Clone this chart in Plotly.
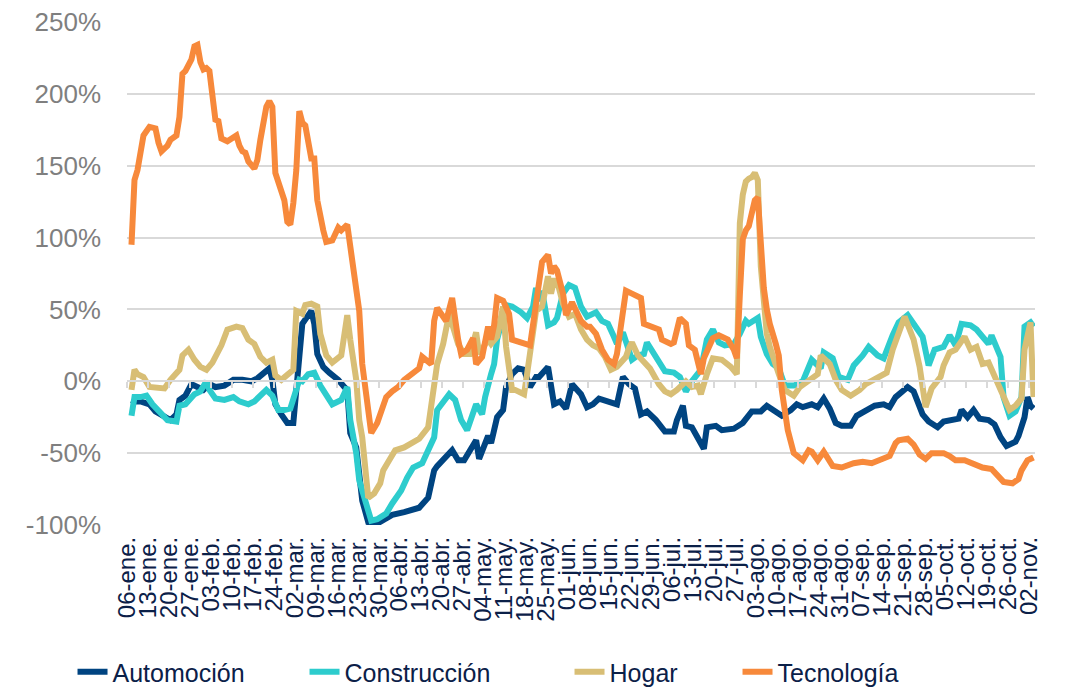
import plotly.graph_objects as go

# Week labels on the category/date axis
week_labels = ["06-ene.", "13-ene.", "20-ene.", "27-ene.", "03-feb.", "10-feb.", "17-feb.", "24-feb.",
               "02-mar.", "09-mar.", "16-mar.", "23-mar.", "30-mar.", "06-abr.", "13-abr.", "20-abr.",
               "27-abr.", "04-may.", "11-may.", "18-may.", "25-may.", "01-jun.", "08-jun.", "15-jun.",
               "22-jun.", "29-jun.", "06-jul.", "13-jul.", "20-jul.", "27-jul.", "03-ago.", "10-ago.",
               "17-ago.", "24-ago.", "31-ago.", "07-sep.", "14-sep.", "21-sep.", "28-sep.", "05-oct.",
               "12-oct.", "19-oct.", "26-oct.", "02-nov."]

y_ticks = [-100, -50, 0, 50, 100, 150, 200, 250]
y_tick_labels = ["-100%", "-50%", "0%", "50%", "100%", "150%", "200%", "250%"]

# Day index (0 = first observation) and values in %
auto_days = [0, 1, 3, 6, 8, 11, 13, 15, 16, 18, 20, 22, 24, 26, 28, 31, 34, 37, 40, 42, 44, 46, 47, 48, 50, 52, 54,
             55, 56, 57, 60, 61, 62, 64, 66, 69, 71, 72, 73, 75, 77, 79, 82, 84, 87, 91, 94, 96, 99, 101, 102, 105,
             107, 109, 111, 113, 115, 116, 117, 119, 120, 122, 124, 125, 127, 129, 131, 132, 133, 135, 136, 139, 140,
             141, 143, 145, 147, 150, 152, 154, 156, 159, 162, 164, 166, 168, 170, 172, 175, 178, 181, 182, 184, 185,
             187, 191, 192, 195, 197, 201, 204, 207, 210, 212, 215, 217, 220, 222, 224, 227, 229, 231, 233, 235, 237,
             240, 242, 245, 248, 251, 253, 255, 257, 259, 261, 262, 264, 266, 269, 271, 273, 276, 277, 279, 281, 283,
             286, 288, 290, 292, 295, 296, 298, 299, 300, 301]
auto_vals = [-13, -14, -14, -16, -21, -25, -27, -23, -13, -10, -2, -4, -6, -2, -4, -3, 1, 1, 0, 2, 5, 9, 1, -16, -23,
             -29, -29, -4, 24, 40, 49, 40, 19, 10, 6, 1, -4, -6, -36, -46, -83, -98, -99, -97, -93, -91, -89, -88, -81,
             -62, -59, -53, -48, -55, -55, -48, -41, -54, -48, -38, -43, -25, -20, -4, 5, 9, 8, 0, -4, 3, 3, 10, -6,
             -16, -14, -19, -2, -9, -18, -16, -12, -14, -16, 3, -2, -5, -23, -21, -27, -35, -35, -27, -17, -31, -32,
             -47, -32, -31, -34, -33, -29, -21, -21, -17, -21, -24, -20, -16, -18, -16, -18, -12, -19, -29, -31, -31,
             -24, -20, -17, -16, -18, -11, -7, -4, -7, -13, -23, -28, -32, -28, -27, -26, -20, -25, -20, -26, -27,
             -30, -39, -45, -42, -38, -25, -11, -17, -19]

cons_days = [0, 1, 3, 5, 7, 10, 12, 15, 16, 18, 21, 23, 25, 26, 28, 31, 34, 36, 39, 41, 43, 45, 47, 49, 51, 53, 56,
             57, 59, 61, 63, 65, 67, 70, 72, 73, 75, 76, 79, 80, 82, 85, 87, 90, 92, 94, 97, 99, 101, 102, 105, 106,
             108, 110, 112, 114, 115, 117, 118, 120, 121, 122, 124, 125, 127, 130, 132, 134, 135, 136, 137, 139, 141,
             142, 144, 146, 148, 150, 152, 155, 157, 159, 161, 162, 164, 166, 167, 169, 171, 172, 174, 176, 178, 181,
             183, 185, 187, 190, 192, 194, 196, 198, 201, 203, 205, 206, 209, 210, 212, 214, 216, 218, 221, 224, 227,
             230, 231, 234, 236, 239, 241, 244, 246, 249, 251, 254, 256, 259, 262, 264, 266, 268, 271, 273, 275, 277,
             280, 282, 284, 286, 287, 290, 291, 293, 295, 297, 298, 300, 301]
cons_vals = [-24, -11, -11, -10, -16, -23, -27, -28, -17, -16, -9, -7, 0, -6, -12, -13, -11, -14, -16, -14, -10, -6,
             -10, -20, -20, -19, 1, 0, 5, 6, -3, -9, -16, -13, -4, -27, -50, -69, -92, -97, -96, -92, -85, -76, -67,
             -60, -57, -48, -39, -20, -11, -9, -13, -27, -34, -23, -16, -23, -11, 5, 12, 29, 45, 53, 52, 48, 44, 52,
             65, 56, 63, 39, 41, 44, 61, 67, 65, 52, 45, 48, 42, 40, 31, 26, 34, 19, 15, 18, 19, 27, 20, 12, 7, 6, 3,
             -7, 0, 8, 29, 36, 27, 25, 26, 33, 42, 40, 44, 31, 19, 12, 9, -3, -3, 0, 15, 9, 20, 16, 3, 1, 11, 18, 24,
             18, 16, 32, 41, 46, 36, 31, 11, 22, 24, 32, 25, 40, 39, 36, 31, 26, 32, 17, -11, -24, -21, -11, 38, 41,
             38]

hogar_days = [0, 1, 2, 4, 6, 9, 11, 13, 16, 17, 19, 21, 23, 25, 27, 30, 32, 35, 37, 39, 41, 43, 45, 47, 48, 50, 52,
              54, 55, 57, 58, 60, 62, 63, 65, 67, 70, 71, 72, 73, 75, 76, 77, 79, 81, 83, 84, 86, 88, 91, 94, 96, 99,
              101, 102, 104, 106, 107, 109, 111, 113, 115, 116, 119, 120, 122, 124, 125, 127, 128, 131, 132, 134, 135,
              137, 139, 140, 141, 142, 144, 146, 148, 150, 152, 154, 156, 158, 160, 162, 165, 166, 167, 169, 171, 173,
              176, 178, 180, 182, 185, 187, 189, 190, 192, 194, 197, 200, 202, 203, 204, 205, 206, 207, 208, 209, 210,
              211, 212, 213, 214, 216, 218, 221, 223, 226, 229, 230, 233, 235, 237, 240, 243, 245, 248, 252, 254, 256,
              258, 261, 263, 265, 267, 270, 271, 273, 275, 278, 280, 282, 284, 286, 288, 291, 293, 295, 297, 298, 300,
              301]
hogar_vals = [-6, 8, 5, 3, -4, -4, -5, 1, 8, 18, 22, 15, 10, 8, 13, 25, 36, 38, 37, 29, 26, 17, 13, 15, 4, 1, 4, 8,
              49, 47, 53, 54, 52, 33, 18, 13, 18, 36, 46, 29, 1, -27, -39, -81, -78, -71, -62, -55, -48, -46, -42,
              -40, -32, -6, 12, 26, 47, 40, 26, 19, 19, 34, 19, 29, 26, 31, 52, 24, -6, -6, -9, 5, 36, 49, 52, 73, 61,
              70, 70, 54, 45, 47, 36, 29, 25, 23, 17, 8, 10, 17, 23, 27, 18, 13, 9, -2, -7, -9, -6, 0, -4, -3, -9, 5,
              16, 15, 10, 5, 110, 130, 139, 141, 142, 145, 140, 80, 55, 33, 24, 17, 5, -6, -10, -4, 1, 5, 18, 12, 1,
              -6, -10, -6, -2, 1, 6, 22, 34, 45, 29, 10, -18, -5, 3, 11, 20, 22, 31, 22, 24, 12, 13, 3, -11, -20, -17,
              -12, 22, 41, -11]

tec_days = [0, 1, 2, 3, 4, 6, 8, 9, 10, 12, 13, 15, 16, 17, 18, 20, 21, 22, 23, 24, 25, 26, 27, 28, 29, 30, 32, 35,
            36, 37, 38, 39, 41, 42, 43, 45, 46, 47, 48, 51, 52, 53, 54, 55, 56, 57, 58, 59, 60, 61, 62, 64, 65, 67,
            69, 70, 72, 73, 75, 76, 77, 79, 80, 82, 84, 85, 87, 89, 91, 93, 96, 97, 100, 101, 102, 105, 107, 109, 110,
            112, 114, 115, 117, 119, 120, 121, 122, 124, 126, 127, 130, 133, 135, 137, 139, 140, 141, 142, 144, 145,
            147, 150, 152, 153, 155, 157, 159, 161, 162, 164, 165, 167, 170, 171, 173, 176, 177, 180, 181, 183, 185,
            186, 188, 190, 191, 194, 196, 199, 201, 202, 203, 204, 205, 206, 207, 208, 209, 210, 211, 212, 213, 215,
            216, 217, 219, 221, 224, 226, 227, 229, 231, 234, 237, 241, 244, 247, 250, 253, 255, 256, 259, 261, 263,
            265, 267, 271, 273, 275, 278, 282, 284, 287, 289, 291, 294, 296, 297, 299, 301]
tec_vals = [95, 140, 147, 163, 171, 177, 176, 166, 160, 164, 168, 171, 184, 214, 216, 224, 233, 234, 222, 217, 218,
            216, 200, 182, 181, 169, 167, 171, 164, 160, 159, 153, 148, 154, 168, 191, 195, 191, 145, 126, 111, 109,
            124, 147, 188, 180, 178, 166, 155, 155, 126, 105, 97, 98, 107, 105, 109, 94, 61, 49, 12, -16, -36, -29,
            -18, -11, -7, -4, 1, 4, 9, 17, 12, 42, 51, 42, 58, 29, 19, 22, 30, 12, 17, 38, 29, 39, 58, 56, 47, 29,
            27, 25, 54, 83, 88, 75, 80, 77, 61, 46, 55, 42, 38, 38, 33, 22, 15, 12, 19, 45, 63, 61, 58, 40, 38, 36,
            29, 26, 27, 44, 40, 25, 22, 5, 16, 30, 32, 29, 22, 16, 60, 99, 105, 108, 117, 126, 128, 92, 65, 50, 40,
            26, 18, -6, -34, -50, -55, -48, -49, -55, -49, -59, -60, -57, -56, -57, -54, -52, -43, -41, -40, -44,
            -51, -54, -50, -50, -52, -55, -55, -59, -60, -61, -65, -70, -71, -68, -62, -55, -53]

series = [
    ("Automoción", auto_days, auto_vals, "#004481", 187),
    ("Construcción", cons_days, cons_vals, "#2DCCCD", 220),
    ("Hogar", hogar_days, hogar_vals, "#D8BE75", 123),
    ("Tecnología", tec_days, tec_vals, "#F7893B", 150),
]

tick_pos = [7 * i - 1.5 for i in range(len(week_labels))]
x_range = [-1.5, 301.5]
y_range = [-100, 250]

fig = go.Figure()
for name, d, v, c, lw in series:
    fig.add_trace(go.Scatter(x=d, y=v, mode="lines", name=name, legendwidth=lw,
                             line=dict(color=c, width=6), hoverinfo="skip"))
# helper trace so the zero-line axis (with tick marks) is drawn
fig.add_trace(go.Scatter(x=[None], y=[None], xaxis="x2", showlegend=False, hoverinfo="skip"))

navy = "#0B2048"
grid = "#D9D9D9"
plot_h = 689 - 22 - 164
fig.update_layout(
    width=1066, height=689,
    margin=dict(l=127, r=31, t=22, b=164, autoexpand=False),
    paper_bgcolor="white", plot_bgcolor="white",
    font=dict(family="Liberation Sans, Arial, sans-serif"),
    xaxis=dict(range=x_range, tickmode="array", tickvals=tick_pos, ticktext=week_labels,
               tickangle=-90, tickfont=dict(size=24, color=navy), showgrid=False, zeroline=False,
               showline=False, ticks="", ticklabelstandoff=6, automargin=False),
    xaxis2=dict(overlaying="x", anchor="free", position=(0 - y_range[0]) / (y_range[1] - y_range[0]),
                range=x_range, tickmode="array", tickvals=tick_pos, showticklabels=False,
                showline=True, linecolor=grid, linewidth=1.5, ticks="outside", ticklen=6,
                tickcolor=grid, tickwidth=1.5, showgrid=False, zeroline=False, automargin=False),
    yaxis=dict(range=y_range, tickmode="array", tickvals=y_ticks, ticktext=y_tick_labels,
               tickfont=dict(size=26, color="#7F7F7F"),
               showgrid=True, gridcolor=grid, gridwidth=1.5, zeroline=False, showline=False,
               ticks="", ticklabelstandoff=25, automargin=False),
    legend=dict(orientation="h", x=-0.06, xanchor="left",
                y=(525 - 672) / plot_h, yanchor="middle", font=dict(size=25, color=navy), itemwidth=30,
                traceorder="normal", borderwidth=0, bgcolor="rgba(0,0,0,0)"),
    showlegend=True,
)

fig.write_html("out.html", config={"displayModeBar": False},
               post_script="document.body.style.margin='0';document.body.style.padding='0';"
                           "document.body.style.overflow='hidden';")
